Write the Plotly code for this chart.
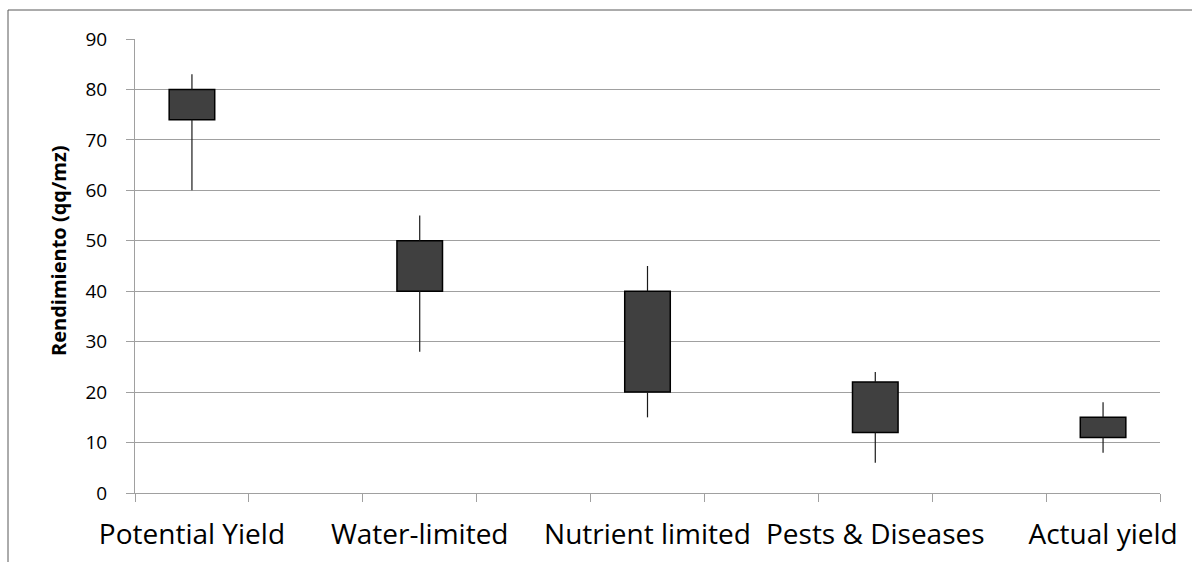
import plotly.graph_objects as go

categories = ["Potential Yield", " ", "Water-limited", "  ", "Nutrient limited",
              "   ", "Pests & Diseases", "    ", "Actual yield"]
box_cats = ["Potential Yield", "Water-limited", "Nutrient limited", "Pests & Diseases", "Actual yield"]
low = [60, 28, 15, 6, 8]
box_low = [74, 40, 20, 12, 11]
box_high = [80, 50, 40, 22, 15]
high = [83, 55, 45, 24, 18]
y_ticks = [0, 10, 20, 30, 40, 50, 60, 70, 80, 90]

font_family = "Open Sans"

fig = go.Figure()

# whiskers (lower and upper segments, outside the box)
wx, wy = [], []
for c, lo, bl, bh, hi in zip(box_cats, low, box_low, box_high, high):
    wx += [c, c, None, c, c, None]
    wy += [lo, bl, None, bh, hi, None]
fig.add_trace(go.Scatter(x=wx, y=wy, mode="lines",
                         line=dict(color="#1a1a1a", width=1.2),
                         showlegend=False, hoverinfo="skip"))

# boxes
fig.add_trace(go.Bar(x=box_cats,
                     y=[h - l for h, l in zip(box_high, box_low)],
                     base=box_low, width=0.4,
                     marker=dict(color="#404040", line=dict(color="#000000", width=1.5)),
                     showlegend=False))

fig.update_layout(
    width=1192, height=562,
    margin=dict(l=135, r=32, t=39, b=69),
    paper_bgcolor="white", plot_bgcolor="white",
    font=dict(family=font_family, color="#000000"),
    showlegend=False,
    xaxis=dict(type="category", categoryorder="array", categoryarray=categories,
               range=[-0.5, 8.5], tickson="boundaries", ticks="outside", ticklen=8,
               tickcolor="#a0a0a0", showgrid=False, showline=True, linecolor="#a0a0a0",
               linewidth=1, tickfont=dict(size=28, family=font_family), tickangle=0,
               automargin=False, ticklabelstandoff=16, fixedrange=True),
    yaxis=dict(range=[0, 90], tickvals=y_ticks, ticks="outside", ticklen=8,
               tickcolor="#a0a0a0", showgrid=True, gridcolor="#a0a0a0", gridwidth=1,
               showline=True, linecolor="#a0a0a0", linewidth=1, zeroline=False,
               automargin=False,
               tickfont=dict(size=19, family=font_family), ticklabelstandoff=15),
    annotations=[dict(text="<b>Rendimiento (qq/mz)</b>", textangle=-90,
                      xref="paper", yref="paper", x=(59 - 135) / 1025, y=(493 - 251) / 454,
                      xanchor="center", yanchor="middle", showarrow=False,
                      font=dict(size=20, family=font_family, color="#000000"))],
    shapes=[dict(type="rect", xref="paper", yref="paper",
                 x0=(8 - 135) / 1025, x1=(1196 - 135) / 1025,
                 y0=(493 - 575) / 454, y1=(493 - 10) / 454,
                 line=dict(color="#595959", width=1), layer="below")],
)

fig.write_html("out.html")
